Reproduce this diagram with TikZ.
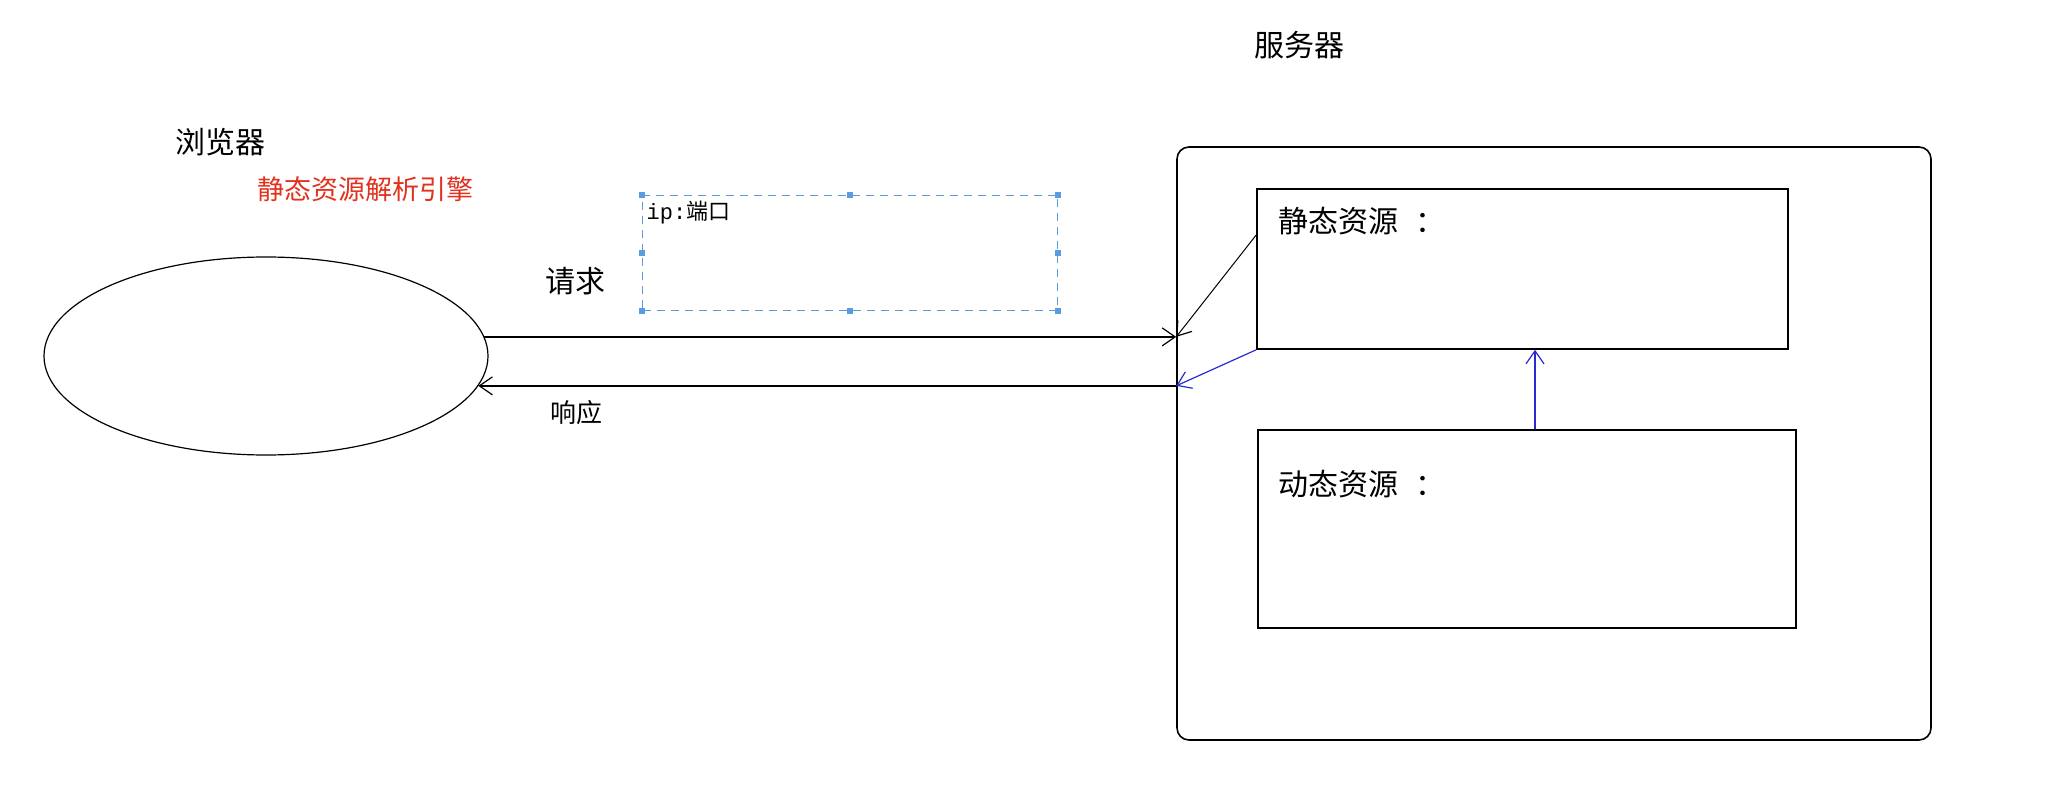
\documentclass[tikz,border=0pt]{standalone}
\usepackage{fontspec}
\setmonofont{Liberation Mono}
\newfontfamily\cjk{Noto Sans CJK SC}
\usepackage{tikz}
\usetikzlibrary{arrows.meta, positioning, calc, shapes.geometric}

\definecolor{selblue}{HTML}{5B9BE0}
\definecolor{penblue}{HTML}{2A2AD0}
\definecolor{enginered}{HTML}{E0321E}

\tikzset{
  label30/.style={font=\cjk\fontsize{30}{34}\selectfont, text=black, inner sep=0pt},
  box/.style={draw, line width=1.6pt, inner sep=0pt},
  barb/.style={-{Straight Barb[length=13pt, width=18pt, line width=1.2pt]}}
}

\begin{document}
\begin{tikzpicture}[x=1pt, y=-1pt, line width=1.4pt]
  \useasboundingbox (0,0) rectangle (2068,791);
  % Navigateur
  \node[draw, ellipse, line width=1.2pt, minimum width=444pt, minimum height=198pt] (browser) at (266,356) {};
  \node[label30] (browsertitle) at (220,142) {浏览器};
  \node[font=\cjk\fontsize{27}{30}\selectfont, text=enginered, inner sep=0pt] (engine) at (365,189) {静态资源解析引擎};
  % Serveur
  \node[box, rounded corners=12pt, minimum width=754pt, minimum height=593pt] (server) at (1554,443.5) {};
  \node[label30] (servertitle) at (1299,45) {服务器};
  \node[box, minimum width=531pt, minimum height=160pt] (static) at (1522.5,269) {};
  \node[label30, anchor=west] (statictext) at ($(static.north west)+(22,33)$) {静态资源\hspace{0.55em}：};
  \node[box, minimum width=538pt, minimum height=198pt] (dyn) at (1527,529) {};
  \node[label30, anchor=west] (dyntext) at ($(dyn.north west)+(21,55)$) {动态资源\hspace{0.55em}：};
  % Adresse
  \node[draw=selblue, dashed, dash pattern=on 8pt off 6pt, line width=1.4pt,
        minimum width=415pt, minimum height=115pt] (ipbox) at (850,253) {};
  \foreach \a in {north west, north, north east, east, south east, south, south west, west}{
    \fill[selblue] (ipbox.\a) ++(-3,-3) rectangle ++(6,6);
  }
  \node[anchor=west, inner sep=0pt, font=\fontsize{22}{26}\selectfont] (iptext) at (646,213) {\ttfamily ip:\cjk 端口};
  % Requete / reponse
  \coordinate (reqL) at (browser.5.5);
  \coordinate (reqR) at (reqL -| server.west);
  \coordinate (respR) at (browser.-8.7 -| server.west);
  \draw[barb] (reqL) -- (reqR);
  \draw[barb] (respR) -- (browser.-8.7);
  \node[label30] (reqtext) at (575,281) {请求};
  \node[label30, font=\cjk\fontsize{26}{30}\selectfont] (resptext) at (576,413) {响应};
  % Liens internes
  \draw[barb, line width=1pt] ([yshift=34pt]static.west) -- (reqR);
  \draw[barb, penblue, line width=1.2pt] (static.south west) -- (respR);
  \draw[barb, penblue, line width=1.2pt] ([xshift=8pt]dyn.north) -- ([xshift=8pt]dyn.north |- static.south);
\end{tikzpicture}
\end{document}
